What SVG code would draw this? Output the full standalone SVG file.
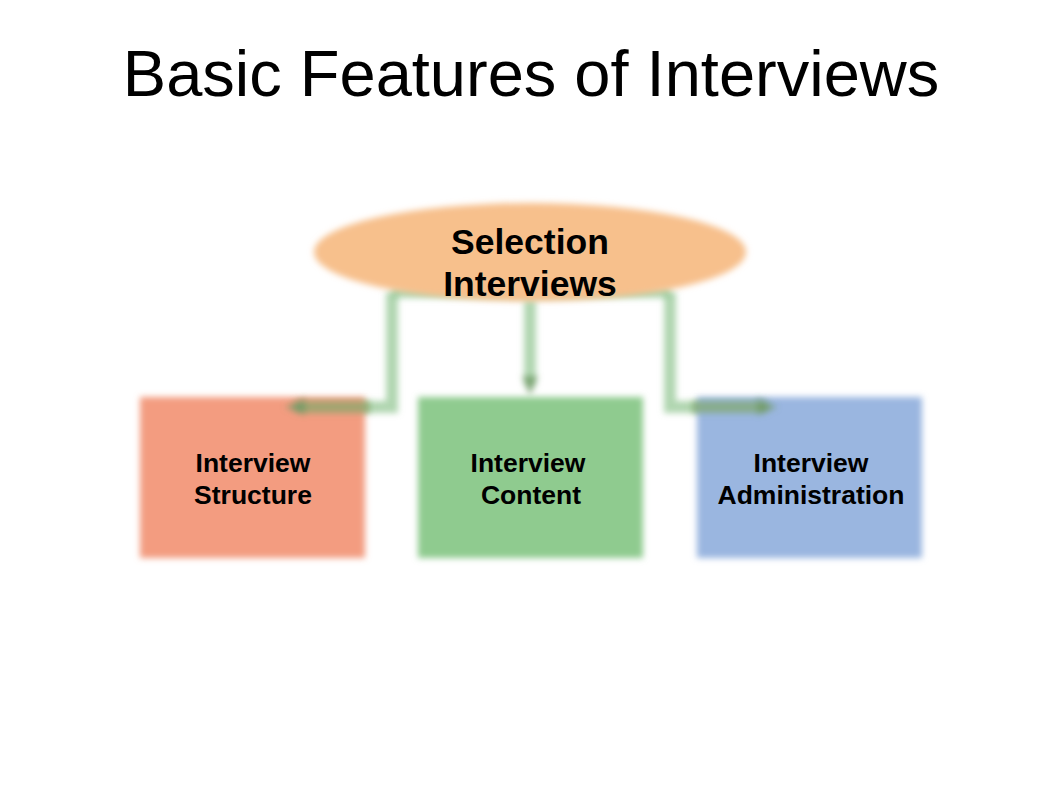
<svg xmlns="http://www.w3.org/2000/svg" width="1062" height="797" viewBox="0 0 1062 797">
<style>
.t{font-family:"Liberation Sans",Arial,sans-serif;fill:#000;text-anchor:middle}
.title{font-size:65px}
.b{font-weight:bold}
.conn{fill:none;stroke:#8fc48f;stroke-width:12;stroke-opacity:0.7}
.over{fill:none;stroke:#7fa868;stroke-width:12;stroke-opacity:0.7}
</style>
<defs>
<filter id="blur" filterUnits="userSpaceOnUse" x="0" y="0" width="1062" height="797"><feGaussianBlur stdDeviation="3"/></filter>
<marker id="ah" markerWidth="20" markerHeight="20" refX="10" refY="10" orient="auto" markerUnits="userSpaceOnUse"><path d="M0,2 L20,10 L0,18 Z" fill="#6f9a66" fill-opacity="0.8"/></marker>
</defs>
<rect width="1062" height="797" fill="#fff"/>
<text class="t title" x="531" y="96">Basic Features of Interviews</text>
<g id="connectors" filter="url(#blur)">
<path class="conn" d="M392,292 H670" stroke-opacity="0.5"/>
<path class="conn" d="M392,292 V407 H295" marker-end="url(#ah)"/>
<path class="conn" d="M530,300 V386" marker-end="url(#ah)"/>
<path class="conn" d="M670,292 V407 H767" marker-end="url(#ah)"/>
</g>
<g id="n-selection">
<ellipse cx="530" cy="252" rx="216" ry="49" fill="#f7c08c" filter="url(#blur)"/>
<text class="t b" x="530" y="254" font-size="35.5">Selection</text>
<text class="t b" x="530" y="296" font-size="35.5">Interviews</text>
</g>
<g id="n-structure">
<rect x="140" y="397" width="225" height="161" fill="#f39c80" filter="url(#blur)"/>
<text class="t b" x="253" y="472" font-size="26.5">Interview</text>
<text class="t b" x="253" y="504" font-size="26.5">Structure</text>
</g>
<g id="n-content">
<rect x="418" y="397" width="225" height="161" fill="#8fcb8f" filter="url(#blur)"/>
<text class="t b" x="528" y="472" font-size="26.5">Interview</text>
<text class="t b" x="531" y="504" font-size="26.5">Content</text>
</g>
<g id="n-admin">
<rect x="697" y="397" width="225" height="161" fill="#9ab6e0" filter="url(#blur)"/>
<text class="t b" x="811" y="472" font-size="26.5">Interview</text>
<text class="t b" x="811" y="504" font-size="26.5">Administration</text>
</g>
<g id="heads" filter="url(#blur)">
<path class="over" d="M370,407 H295" marker-end="url(#ah)"/>
<path class="over" d="M692,407 H767" marker-end="url(#ah)"/>
</g>
</svg>
